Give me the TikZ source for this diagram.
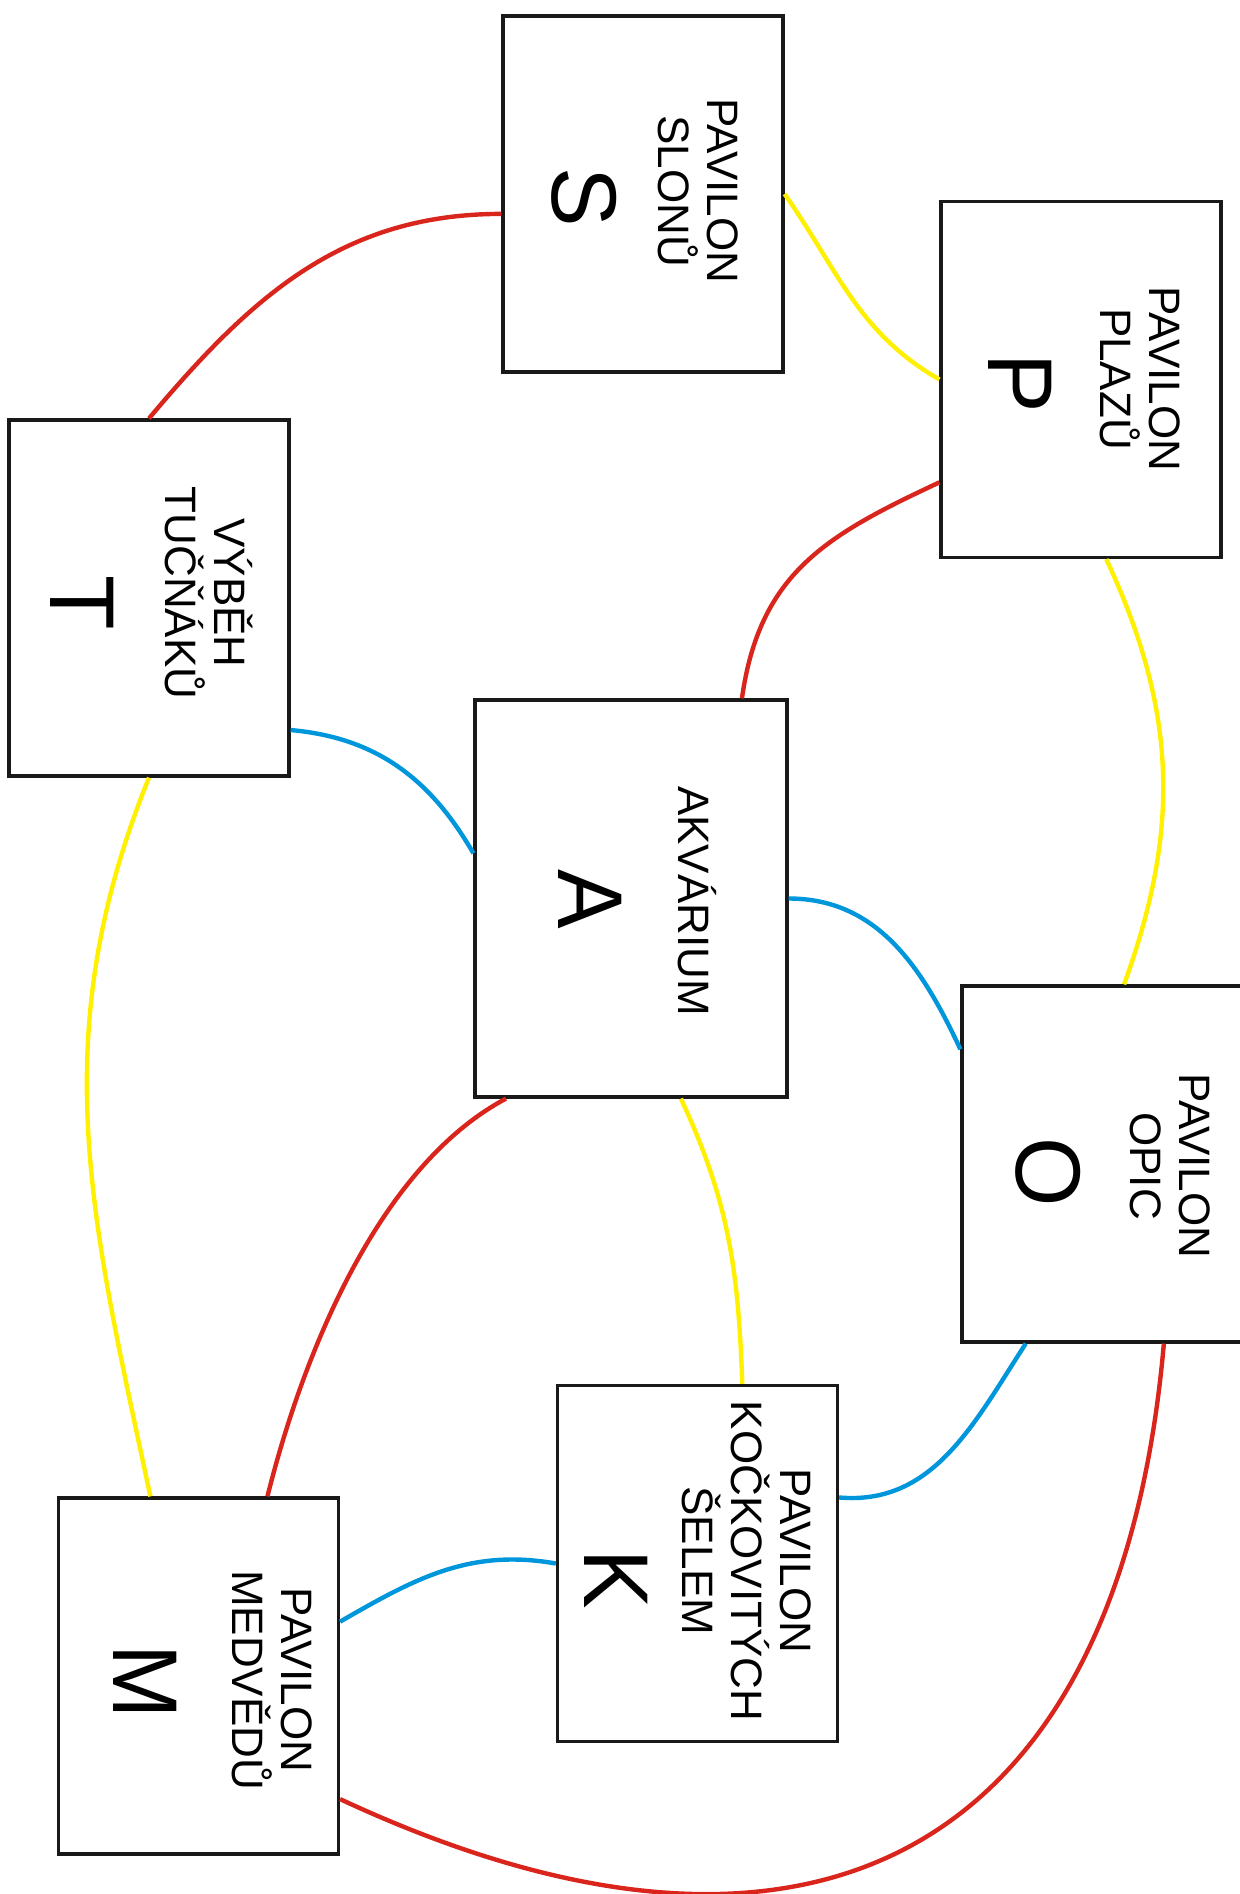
\documentclass[tikz,border=0pt]{standalone}
\usepackage{fontspec}
\setmainfont{Liberation Sans}
\newfontfamily\bigfont{Liberation Sans}[FakeStretch=0.97]
\definecolor{linkred}{RGB}{218,37,29}
\definecolor{linkyellow}{RGB}{255,240,0}
\definecolor{linkblue}{RGB}{0,150,219}

\begin{document}
\begin{tikzpicture}[x=0.5pt, y=0.5pt,
    pavilon/.style={draw=black!90, line width=1.6pt, minimum width=140pt,
                    minimum height=178pt, inner sep=0pt},
    boxtext/.style={rotate=-90, align=center, anchor=south, inner sep=0pt,
                    font=\fontsize{22}{24.5}\selectfont},
    bigletter/.style={rotate=-90, inner sep=0pt,
                      font=\bigfont\fontsize{46}{46}\selectfont},
    redlink/.style={draw=linkred, line width=2.2pt},
    yellowlink/.style={draw=linkyellow, line width=2.2pt},
    bluelink/.style={draw=linkblue, line width=2.2pt}]

  \useasboundingbox (0,0) rectangle (1239,-1894);

  % === Pavilions ===
  \node[pavilon] (S) at (643,-194) {};
  \node[pavilon] (P) at (1081,-379.5) {};
  \node[pavilon] (T) at (149,-598) {};
  \node[pavilon, minimum width=156pt, minimum height=198.5pt] (A) at (631,-898.5) {};
  \node[pavilon] (O) at (1102,-1164) {};
  \node[pavilon] (K) at (697.5,-1563.5) {};
  \node[pavilon] (M) at (198.5,-1676) {};

  % Names (rotated)
  \node[boxtext] (Stext) at (658,-191) {PAVILON\\SLONŮ};
  \node[boxtext] (Ptext) at (1100,-379) {PAVILON\\PLAZŮ};
  \node[boxtext] (Ttext) at (165,-593) {VÝBĚH\\TUČŇÁKŮ};
  \node[boxtext] (Atext) at (678,-901) {AKVÁRIUM};
  \node[boxtext] (Otext) at (1130,-1166) {PAVILON\\OPIC};
  \node[boxtext] (Ktext) at (682,-1561) {PAVILON\\KOČKOVITÝCH\\ŠELEM};
  \node[boxtext] (Mtext) at (232,-1680) {PAVILON\\MEDVĚDŮ};

  % Letters
  \node[bigletter] (Sl) at (584,-197) {S};
  \node[bigletter] (Pl) at (1020,-383) {P};
  \node[bigletter] (Tl) at (82,-603) {T};
  \node[bigletter] (Al) at (590,-899) {A};
  \node[bigletter] (Ol) at (1048,-1172) {O};
  \node[bigletter] (Kl) at (616,-1579) {K};
  \node[bigletter] (Ml) at (145,-1682) {M};

  % === Paths ===
  \draw[redlink] (T.north) to[out=50, in=180] (S.188);
  \draw[yellowlink] (S.east) to[out=-55, in=150] (P.west);
  \draw[redlink, looseness=1.1] (P.216) to[out=205, in=82] (A.61);
  \draw[yellowlink] (P.-82) to[out=-65, in=70] (O.83);
  \draw[bluelink] (T.-43) to[out=-5, in=120] (A.164);
  \draw[bluelink] (A.east) to[out=0, in=115] (O.141);
  \draw[yellowlink] (T.south) to[out=-112, in=102] (M.105);
  \draw[redlink, looseness=0.8] (A.-122) to[out=-152, in=76] (M.69);
  \draw[yellowlink] (A.-76) to[out=-65, in=92] (K.76);
  \draw[bluelink] (O.-113) to[out=-123, in=-5] (K.25);
  \draw[bluelink] (M.21) to[out=30, in=170] (K.west);
  % long way round the bottom
  \draw[redlink, looseness=1.4] (O.-71) to[out=-95, in=-25] (M.-41);

\end{tikzpicture}
\end{document}
